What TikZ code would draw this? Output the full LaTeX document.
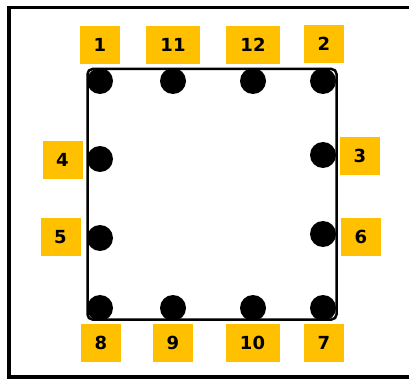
\documentclass[tikz,border=0pt]{standalone}
\usepackage{fontspec}
\setmainfont{DejaVu Sans}
\definecolor{gold}{HTML}{FFC000}
\begin{document}
\begin{tikzpicture}[x=1pt,y=-1pt,
  bar/.style={circle,fill=black,inner sep=0pt,minimum size=26pt},
  lab/.style={fill=gold,inner sep=0pt,minimum height=38pt,font=\fontsize{18}{20}\bfseries\selectfont},
  lab1/.style={lab,minimum width=40pt},
  lab2/.style={lab,minimum width=54pt}]
\useasboundingbox (0,0) rectangle (409,379);
\begin{scope}
\clip (0,0) rectangle (409,379);
\draw[line width=3.5pt] (430,7.5) -- (9,7.5) -- (9,377) -- (430,377);
\end{scope}
\draw[line width=2.5pt,rounded corners=5pt] (87.5,69) rectangle (336.5,319.5);
% bars
\node[bar] (c1) at (100,81) {};
\node[bar] (c11) at (173,81) {};
\node[bar] (c12) at (253,81) {};
\node[bar] (c2) at (323,81) {};
\node[bar] (c4) at (100,159) {};
\node[bar] (c5) at (100,238) {};
\node[bar] (c3) at (323,155) {};
\node[bar] (c6) at (323,234) {};
\node[bar] (c8) at (100,308) {};
\node[bar] (c9) at (173,308) {};
\node[bar] (c10) at (253,308) {};
\node[bar] (c7) at (323,308) {};
% labels
\node[lab1] (l1) at (100,45) {1};
\node[lab2] (l11) at (173,45) {11};
\node[lab2] (l12) at (253,45) {12};
\node[lab1] (l2) at (324,44) {2};
\node[lab1] (l4) at (62.5,160) {4};
\node[lab1] (l5) at (60.5,237) {5};
\node[lab1] (l3) at (360,156) {3};
\node[lab1] (l6) at (361,237) {6};
\node[lab1] (l8) at (101,342.5) {8};
\node[lab1] (l9) at (173,343) {9};
\node[lab2] (l10) at (252.5,343) {10};
\node[lab1] (l7) at (324,343) {7};
\end{tikzpicture}
\end{document}
